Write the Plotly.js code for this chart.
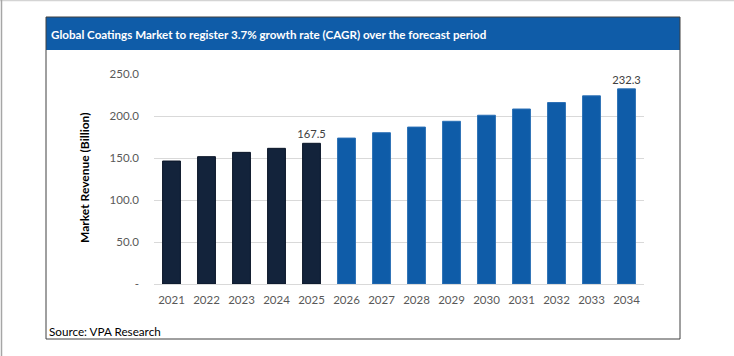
<!DOCTYPE html>
<html>
<head>
<meta charset="utf-8">
<script src="https://cdn.plot.ly/plotly-3.0.1.min.js"></script>
<style>
  html, body { margin: 0; padding: 0; background: #ffffff; }
  #chart { width: 734px; height: 356px; }
</style>
</head>
<body>
<div id="chart"></div>
<script>
// ---- data ----
const historicYears = ["2021", "2022", "2023", "2024", "2025"];
const historicValues = [146.4, 151.6, 156.7, 161.5, 167.5];
const forecastYears = ["2026", "2027", "2028", "2029", "2030", "2031", "2032", "2033", "2034"];
const forecastValues = [173.7, 180.1, 186.8, 193.7, 200.9, 208.3, 216.0, 224.0, 232.3];
const historicLabels = ["", "", "", "", "167.5"];
const forecastLabels = ["", "", "", "", "", "", "", "", "232.3"];
const yTickValues = [0, 50, 100, 150, 200, 250];
const yTickLabels = ["-", "50.0", "100.0", "150.0", "200.0", "250.0"];
const chartTitle = "Global Coatings Market to register 3.7% growth rate (CAGR) over the forecast period";
const yTitle = "Market Revenue (Billion)";
const sourceText = "Source: VPA Research";

// ---- layout geometry (pixels) ----
const W = 734, H = 356;
const L = 154, R = 90, T = 74, B = 72;
const pw = W - L - R, ph = H - T - B;
const px = x => (x - L) / pw;
const py = y => (H - B - y) / ph;

const FONT = "Lato, 'Liberation Sans', sans-serif";

const traces = [
  {
    type: "bar", x: historicYears, y: historicValues,
    text: historicLabels, textposition: "outside", cliponaxis: false, constraintext: "none",
    textfont: { family: FONT, size: 11.2, color: "#404040" },
    marker: { color: "#13233b", line: { color: "#0b1628", width: 1 } },
    hoverinfo: "x+y", showlegend: false
  },
  {
    type: "bar", x: forecastYears, y: forecastValues,
    text: forecastLabels, textposition: "outside", cliponaxis: false, constraintext: "none",
    textfont: { family: FONT, size: 11.2, color: "#404040" },
    marker: { color: "#0f5ca8", line: { color: "#2a6fb5", width: 1 } },
    hoverinfo: "x+y", showlegend: false
  }
];

const layout = {
  width: W, height: H,
  margin: { l: L, r: R, t: T, b: B, pad: 0 },
  paper_bgcolor: "#ffffff", plot_bgcolor: "#ffffff",
  barmode: "overlay", bargap: 0.49,
  font: { family: FONT, size: 11.5, color: "#595959" },
  xaxis: {
    type: "category",
    categoryorder: "array",
    categoryarray: historicYears.concat(forecastYears),
    showgrid: false, showline: false, zeroline: false,
    ticks: "", ticklabelstandoff: 7,
    tickfont: { family: FONT, size: 11.5, color: "#595959" },
    fixedrange: true
  },
  yaxis: {
    range: [0, 250],
    tickvals: yTickValues, ticktext: yTickLabels,
    showgrid: true, gridcolor: "#d9d9d9", gridwidth: 1,
    zeroline: true, zerolinecolor: "#d9d9d9", zerolinewidth: 1,
    showline: false, ticks: "", ticklabelstandoff: 14,
    tickfont: { family: FONT, size: 11.5, color: "#595959" },
    fixedrange: true
  },
  shapes: [
    { type: "line", xref: "paper", yref: "paper", x0: px(0), x1: px(W), y0: py(0.5), y1: py(0.5),
      line: { color: "#d4d4d4", width: 1.5 } },
    { type: "line", xref: "paper", yref: "paper", x0: px(1.5), x1: px(1.5), y0: py(0), y1: py(H),
      line: { color: "#a6a6a6", width: 1.5 } },
    { type: "rect", xref: "paper", yref: "paper", x0: px(46), x1: px(680), y0: py(17), y1: py(50),
      fillcolor: "#0f5ca8", line: { width: 0 }, layer: "below" },
    { type: "rect", xref: "paper", yref: "paper", x0: px(46), x1: px(680), y0: py(17), y1: py(339),
      fillcolor: "rgba(0,0,0,0)", line: { color: "#404040", width: 1 } }
  ],
  annotations: [
    { text: "<b>" + chartTitle + "</b>", xref: "paper", yref: "paper",
      x: px(49), y: py(34), xanchor: "left", yanchor: "middle", showarrow: false,
      font: { family: FONT, size: 11.6, color: "#ffffff" } },
    { text: "<b>" + yTitle + "</b>", xref: "paper", yref: "paper", textangle: -90,
      x: px(84), y: py(178), xanchor: "center", yanchor: "middle", showarrow: false,
      font: { family: FONT, size: 12, color: "#000000" } },
    { text: sourceText, xref: "paper", yref: "paper",
      x: px(47), y: py(331), xanchor: "left", yanchor: "middle", showarrow: false,
      font: { family: FONT, size: 11.7, color: "#000000" } }
  ]
};

Plotly.newPlot("chart", traces, layout, { displayModeBar: false, staticPlot: true });
</script>
</body>
</html>
